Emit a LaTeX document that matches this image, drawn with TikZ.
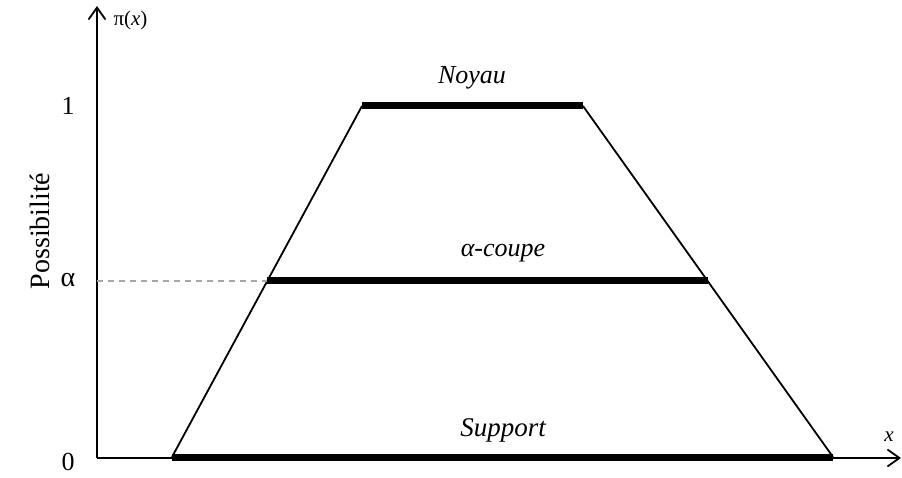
\documentclass[tikz,border=0pt]{standalone}
\usepackage{fontspec}
\setmainfont{Liberation Serif}
\usetikzlibrary{arrows.meta}
\begin{document}
\begin{tikzpicture}[x=1pt,y=-1pt,
  axis/.style={line width=1.8pt,-{Straight Barb[length=12pt,width=17pt,line width=1.8pt]}},
  side/.style={line width=1.8pt},
  bar/.style={line width=7pt},
  guide/.style={line width=1.6pt,dash pattern=on 6pt off 5pt,gray!70},
  lbl/.style={font=\fontsize{26}{30}\selectfont},
  ital/.style={font=\fontsize{26}{30}\selectfont\itshape}]
\useasboundingbox (0,0) rectangle (902,478);
\coordinate (O) at (97,458);
\coordinate (Ytop) at (97,6);
\coordinate (Xend) at (901,458);
\coordinate (BL) at (172,457);
\coordinate (TL) at (362,106);
\coordinate (TR) at (583,106);
\coordinate (BR) at (833,457);
\coordinate (AL) at (267,281);
\coordinate (AR) at (708,281);
\coordinate (AY) at (97,281);
\draw[axis] (O) -- (Ytop);
\draw[axis] (O) -- (Xend);
\draw[side] (BL) -- (TL);
\draw[side] (TR) -- (BR);
\draw[guide] (AY) -- (AL);
\draw[bar] (TL) -- (TR);
\draw[bar] (AL) -- (AR);
\draw[bar] (BL) -- (BR);
\node[lbl] (one) at (68,106) {1};
\node[font=\fontsize{28}{30}\selectfont] (alpha) at (68,280) {α};
\node[lbl] (zero) at (68,462) {0};
\node[font=\fontsize{28}{30}\selectfont,rotate=90] (poss) at (40,231) {Possibilité};
\node[font=\fontsize{21}{24}\selectfont,anchor=west] (pi) at (110,20) {π(\textit{x})};
\node[font=\fontsize{21}{24}\selectfont\itshape] (xl) at (889,437) {x};
\node[ital] (noyau) at (472,78) {Noyau};
\node[ital] (coupe) at (503,253) {α-coupe};
\node[font=\fontsize{27}{30}\selectfont\itshape] (support) at (503,430) {Support};
\end{tikzpicture}
\end{document}
